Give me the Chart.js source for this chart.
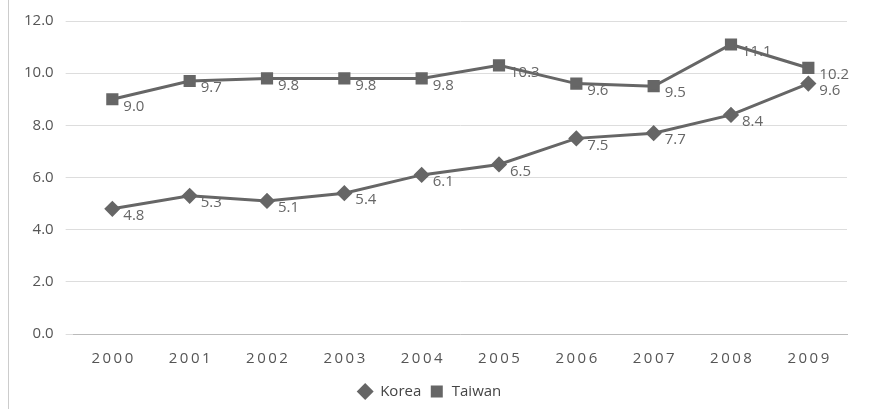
<!DOCTYPE html>
<html><head><meta charset="utf-8">
<script src="https://cdn.jsdelivr.net/npm/chart.js@4"></script>
<style>body{margin:0;background:#fff}#wrap{width:871px;height:409px}</style>
</head><body><div id="wrap"><canvas id="c"></canvas></div>
<script>
const years = ['2000','2001','2002','2003','2004','2005','2006','2007','2008','2009'];
const korea = [4.8, 5.3, 5.1, 5.4, 6.1, 6.5, 7.5, 7.7, 8.4, 9.6];
const taiwan = [9.0, 9.7, 9.8, 9.8, 9.8, 10.3, 9.6, 9.5, 11.1, 10.2];

const FONT = '"Open Sans", "Liberation Sans", sans-serif';

const labelPlugin = {
    id: 'labels',
    afterDatasetsDraw(chart) {
        const ctx = chart.ctx;
        ctx.save();
        ctx.font = '15px ' + FONT;
        ctx.fillStyle = '#666';
        ctx.textBaseline = 'middle';
        chart.data.datasets.forEach((ds, i) => {
            chart.getDatasetMeta(i).data.forEach((p, j) => {
                ctx.fillText(ds.data[j].toFixed(1), p.x + 11, p.y + 7);
            });
        });
        ctx.strokeStyle = '#ccc';
        ctx.lineWidth = 1;
        ctx.beginPath();
        ctx.moveTo(8.5, 0);
        ctx.lineTo(8.5, 409);
        ctx.stroke();
        ctx.restore();
    }
};

new Chart(document.getElementById('c').getContext('2d'), {
    type: 'line',
    data: {
        labels: years,
        datasets: [{
            label: 'Korea',
            data: korea,
            borderColor: '#666',
            backgroundColor: '#666',
            borderWidth: 3,
            pointStyle: 'rectRot',
            pointRadius: 6,
            tension: 0
        }, {
            label: 'Taiwan',
            data: taiwan,
            borderColor: '#666',
            backgroundColor: '#666',
            borderWidth: 3,
            pointStyle: 'rect',
            pointRadius: 6.5,
            tension: 0
        }]
    },
    options: {
        responsive: true,
        maintainAspectRatio: false,
        animation: false,
        layout: { padding: { left: 12, right: 24, top: 1, bottom: 0 } },
        plugins: {
            legend: {
                position: 'bottom',
                labels: {
                    usePointStyle: true,
                    color: '#444',
                    font: { size: 15, family: FONT },
                    padding: 8,
                    boxHeight: 9
                }
            },
            tooltip: { enabled: false }
        },
        scales: {
            x: {
                offset: true,
                grid: { display: false },
                border: { color: '#bbb' },
                ticks: { color: '#555', padding: 8, font: { size: 15, family: FONT },
                    callback: function (v) { return this.getLabelForValue(v).split('').join('\u2009'); } }
            },
            y: {
                min: 0, max: 12,
                ticks: { stepSize: 2, color: '#555', padding: 12, font: { size: 15, family: FONT }, callback: v => v.toFixed(1) },
                grid: { color: '#ddd' },
                border: { display: false }
            }
        }
    },
    plugins: [labelPlugin]
});
</script></body></html>
